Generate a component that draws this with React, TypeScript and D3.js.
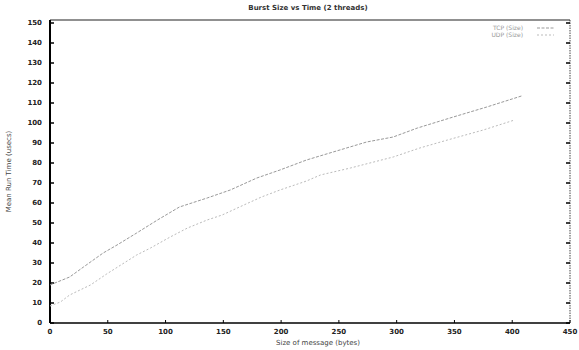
import React from "react";
import * as d3 from "d3";

// message sizes (bytes) and mean times
const upperX = [0, 17, 29, 46, 58, 75, 93, 112, 136, 156, 179, 199, 222, 245, 274, 297, 318, 349, 378, 408];
const upperY = [19, 23, 28, 35, 39, 45, 51.5, 58, 62.5, 66.5, 72.5, 76.5, 81.5, 85.5, 90.5, 93, 97.5, 103, 108, 113.5];
const lowerX = [0, 9, 17, 35, 49, 75, 87, 104, 119, 136, 149, 164, 183, 199, 222, 234, 260, 297, 320, 344, 375, 402];
const lowerY = [8.5, 10.5, 14, 19, 24.5, 34, 37.5, 43, 47.5, 51.5, 54, 58, 63, 66.5, 71, 74, 77.5, 83, 87.5, 91.5, 96.5, 101.5];
const seriesNames = ["TCP (Size)", "UDP (Size)"];
const xTicks = [0, 50, 100, 150, 200, 250, 300, 350, 400, 450];
const yTicks = [0, 10, 20, 30, 40, 50, 60, 70, 80, 90, 100, 110, 120, 130, 140, 150];

const W = 579;
const H = 350;
const m = { left: 50, right: 9, top: 20, bottom: 27 };

export default function App() {
  const x = d3.scaleLinear().domain([0, 450]).range([m.left, W - m.right]);
  const y = d3.scaleLinear().domain([0, 150]).range([H - m.bottom, m.top + 3]);
  const line = d3
    .line<[number, number]>()
    .x((d) => x(d[0]))
    .y((d) => y(d[1]));
  const upper = upperX.map((v, i) => [v, upperY[i]] as [number, number]);
  const lower = lowerX.map((v, i) => [v, lowerY[i]] as [number, number]);
  const font = "DejaVu Sans, sans-serif";
  const x0 = m.left;
  const x1 = W - m.right;
  const y0 = H - m.bottom;
  const y1 = m.top;

  return (
    <svg
      width={W}
      height={H}
      style={{ position: "absolute", left: 0, top: 0, background: "#fff" }}
      fontFamily={font}
    >
      {/* frame */}
      <line x1={x1} x2={x1} y1={y1} y2={y0} stroke="#444" strokeWidth={1} strokeDasharray="1.5,1" />
      <line x1={x0} x2={x1} y1={y1} y2={y1} stroke="#222" strokeWidth={1.2} />
      <line x1={x0} x2={x0} y1={y1} y2={y0} stroke="#000" strokeWidth={2} />
      <line x1={x0} x2={x1} y1={y0} y2={y0} stroke="#000" strokeWidth={1.5} />

      {/* y ticks */}
      {yTicks.map((t) => (
        <g key={"y" + t}>
          <line x1={x0} x2={x0 + 4} y1={y(t)} y2={y(t)} stroke="#000" strokeWidth={1.5} />
          <line x1={x1} x2={x1 - 4} y1={y(t)} y2={y(t)} stroke="#000" strokeWidth={1.5} />
          <text x={x0 - 8} y={y(t)} dy="0.35em" textAnchor="end" fontSize={7} fontWeight="bold" fill="#222">
            {t}
          </text>
        </g>
      ))}

      {/* x ticks */}
      {xTicks.map((t) => (
        <g key={"x" + t}>
          <line x1={x(t)} x2={x(t)} y1={y0} y2={y0 - 3} stroke="#000" strokeWidth={1} />
          <text x={x(t)} y={y0 + 11} textAnchor="middle" fontSize={7} fontWeight="bold" fill="#222">
            {t}
          </text>
        </g>
      ))}

      {/* series */}
      <path d={line(upper) ?? ""} fill="none" stroke="#999" strokeWidth={1} strokeDasharray="3,1.5" />
      <path d={line(lower) ?? ""} fill="none" stroke="#bbb" strokeWidth={1} strokeDasharray="2,2" />

      {/* legend */}
      {seriesNames.map((s, i) => (
        <g key={s}>
          <text x={523} y={30 + i * 7} textAnchor="end" fontSize={6} fill="#999">
            {s}
          </text>
          <line x1={537} x2={554} y1={28 + i * 7} y2={28 + i * 7} stroke={i === 0 ? "#999" : "#bbb"} strokeWidth={1} strokeDasharray={i === 0 ? "3,1.5" : "2,2"} />
        </g>
      ))}

      {/* titles */}
      <text x={308} y={10} textAnchor="middle" fontSize={7} fontWeight="bold" fill="#333">
        Burst Size vs Time (2 threads)
      </text>
      <text x={318} y={345} textAnchor="middle" fontSize={7} fill="#444">
        Size of message (bytes)
      </text>
      <text
        transform={`translate(11,${(y0 + y1) / 2}) rotate(-90)`}
        textAnchor="middle"
        fontSize={7}
        fill="#444"
      >
        Mean Run Time (usecs)
      </text>
    </svg>
  );
}
